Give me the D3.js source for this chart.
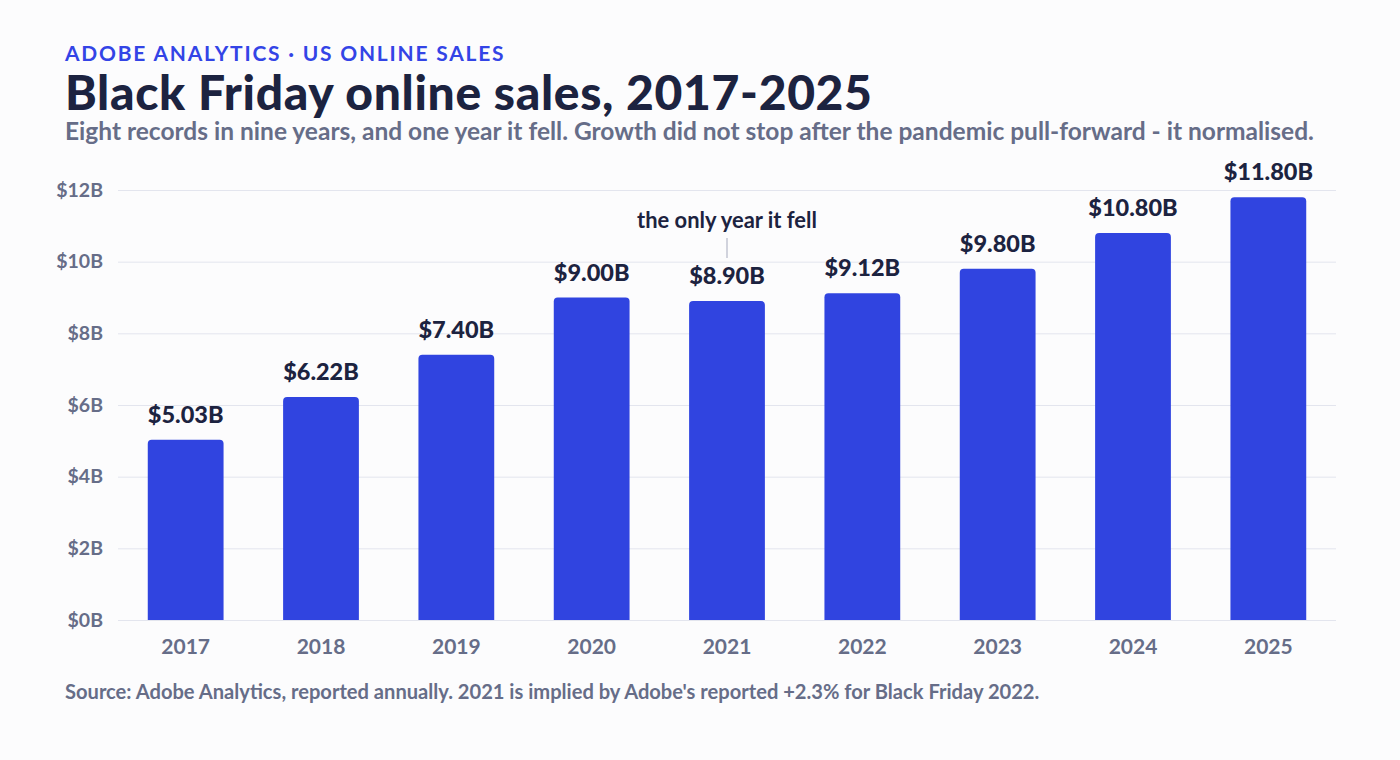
<!DOCTYPE html>
<html lang="en">
<head>
<meta charset="utf-8">
<title>Black Friday online sales</title>
<script src="https://cdn.jsdelivr.net/npm/d3@7"></script>
<style>
  html, body { margin: 0; padding: 0; background: #fcfcfd; }
  svg { display: block; font-family: Lato, "Noto Sans", sans-serif; }
</style>
</head>
<body>
<svg id="chart" width="1400" height="760"></svg>
<script>
// data
const years = ["2017", "2018", "2019", "2020", "2021", "2022", "2023", "2024", "2025"];
const sales = [5.03, 6.22, 7.40, 9.00, 8.90, 9.12, 9.80, 10.80, 11.80];
const yTicks = [0, 2, 4, 6, 8, 10, 12];
const noteYear = "2021";
const noteText = "the only year it fell";

const blue = "#3044e0";
const ink = "#1c2340";
const grey = "#666d88";

const svg = d3.select("#chart");
const margin = { top: 190, right: 64, bottom: 140, left: 118 };
const W = 1400, H = 760;

const x = d3.scaleBand()
  .domain(years)
  .range([margin.left, W - margin.right])
  .paddingInner(0.44)
  .paddingOuter(0.22);

const y = d3.scaleLinear()
  .domain([0, 12])
  .range([H - margin.bottom, margin.top]);

// scale a text's font so it spans a given width
function fit(sel, target) {
  const node = sel.node();
  const size = parseFloat(sel.attr("font-size"));
  const w = node.getComputedTextLength();
  sel.attr("font-size", (size * target / w).toFixed(2));
  return sel;
}

// header
fit(svg.append("text")
  .attr("x", 65).attr("y", 61)
  .attr("font-size", 18).attr("font-weight", 700)
  .attr("letter-spacing", "1.8px")
  .attr("fill", "#3344e6")
  .text("ADOBE ANALYTICS · US ONLINE SALES"), 450);

svg.append("text")
  .attr("x", 65).attr("y", 110)
  .attr("font-size", 48).attr("font-weight", 900)
  .attr("letter-spacing", "0.65px")
  .attr("fill", ink)
  .text("Black Friday online sales, 2017-2025");

fit(svg.append("text")
  .attr("x", 65).attr("y", 140)
  .attr("font-size", 21).attr("font-weight", 700)
  .attr("fill", grey)
  .text("Eight records in nine years, and one year it fell. Growth did not stop after the pandemic pull-forward - it normalised."), 1249);

// grid + y axis
const yAxis = svg.append("g")
  .attr("transform", `translate(${margin.left},0)`)
  .call(d3.axisLeft(y).tickValues(yTicks)
    .tickSize(-(W - margin.left - margin.right))
    .tickPadding(15)
    .tickFormat(d => `$${d}B`));
yAxis.select(".domain").remove();
yAxis.selectAll(".tick line").attr("stroke", "#e3e5ee").attr("stroke-width", 1);
yAxis.selectAll(".tick text")
  .attr("fill", grey)
  .attr("font-size", 19.5).attr("font-weight", 700)
  .attr("font-family", "Lato, sans-serif");

// bars
const r = 4;
svg.append("g").selectAll("path")
  .data(years)
  .join("path")
  .attr("fill", blue)
  .attr("d", (d, i) => {
    const x0 = x(d), x1 = x(d) + x.bandwidth();
    const top = y(sales[i]), base = y(0);
    return `M${x0},${base}V${top + r}Q${x0},${top} ${x0 + r},${top}H${x1 - r}Q${x1},${top} ${x1},${top + r}V${base}Z`;
  });

// value labels
svg.append("g").selectAll("text")
  .data(years)
  .join("text")
  .attr("x", d => x(d) + x.bandwidth() / 2)
  .attr("y", (d, i) => y(sales[i]) - 17)
  .attr("text-anchor", "middle")
  .attr("fill", ink)
  .attr("font-size", 23.5).attr("font-weight", 900)
  .text((d, i) => `$${sales[i].toFixed(2)}B`);

// x axis
const xAxis = svg.append("g")
  .attr("transform", `translate(0,${y(0)})`)
  .call(d3.axisBottom(x).tickSize(0).tickPadding(19));
xAxis.select(".domain").remove();
xAxis.selectAll(".tick text")
  .attr("fill", grey)
  .attr("font-size", 21).attr("font-weight", 700)
  .attr("font-family", "Lato, sans-serif");

// annotation over the dip
const nx = x(noteYear) + x.bandwidth() / 2;
const ni = years.indexOf(noteYear);
svg.append("line")
  .attr("x1", nx).attr("x2", nx)
  .attr("y1", y(sales[ni]) - 43).attr("y2", y(sales[ni]) - 63)
  .attr("stroke", "#b4b8c8").attr("stroke-width", 1.2);
fit(svg.append("text")
  .attr("x", nx).attr("y", y(sales[ni]) - 73)
  .attr("text-anchor", "middle")
  .attr("fill", ink)
  .attr("font-size", 19).attr("font-weight", 700)
  .text(noteText), 180);

// source
fit(svg.append("text")
  .attr("x", 65).attr("y", 699)
  .attr("font-size", 16).attr("font-weight", 700)
  .attr("fill", grey)
  .text("Source: Adobe Analytics, reported annually. 2021 is implied by Adobe's reported +2.3% for Black Friday 2022."), 975);
</script>
</body>
</html>
